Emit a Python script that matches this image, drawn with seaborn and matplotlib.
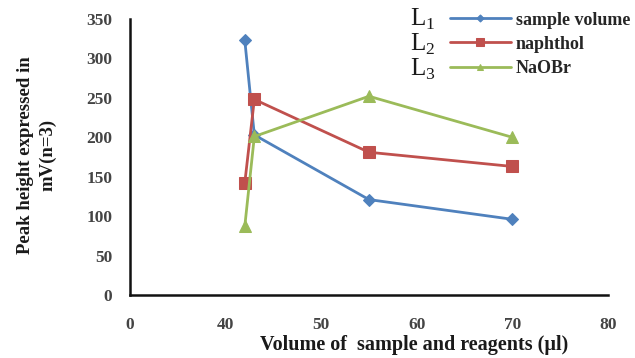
import numpy as np
import pandas as pd
import matplotlib
matplotlib.use("Agg")
import matplotlib.pyplot as plt
import seaborn as sns

# Optimisation data: peak height (mV, n=3) against volume (µl)
sample_volume_x = [42, 43, 55, 70]
sample_volume_y = [323, 203, 121, 96]
naphthol_x = [42, 43, 55, 70]
naphthol_y = [142, 248, 181, 163]
naobr_x = [42, 43, 55, 70]
naobr_y = [87, 201, 252, 200]

series_names = ["sample volume", "naphthol", "NaOBr"]
series_tags = ["L$_1$", "L$_2$", "L$_3$"]
x_ticks = [0, 40, 50, 60, 70, 80]
y_ticks = [0, 50, 100, 150, 200, 250, 300, 350]

sns.set_style("white")
plt.rcParams["font.family"] = ["Liberation Serif", "DejaVu Serif"]
plt.rcParams["mathtext.fontset"] = "custom"
plt.rcParams["mathtext.rm"] = "Liberation Serif"

fig = plt.figure(figsize=(6.35, 3.58), dpi=100)
ax = fig.add_axes([0.205, 0.176, 0.752, 0.771])

# Broken x axis: 0-40 squeezed into one tick interval, then linear
def fwd(x):
    x = np.asarray(x, dtype=float)
    return np.where(x < 40, x / 4.0, x - 30.0)

def inv(p):
    p = np.asarray(p, dtype=float)
    return np.where(p < 10, p * 4.0, p + 30.0)

ax.set_xscale("function", functions=(fwd, inv))

colors = ["#4F81BD", "#C0504D", "#9BBB59"]
markers = ["D", "s", "^"]
msizes = [6, 9, 8]
xs = [sample_volume_x, naphthol_x, naobr_x]
ys = [sample_volume_y, naphthol_y, naobr_y]

handles = []
for x, y, name, c, m, ms in zip(xs, ys, series_names, colors, markers, msizes):
    df = pd.DataFrame({"x": x, "y": y})
    sns.lineplot(data=df, x="x", y="y", ax=ax, color=c, marker=m,
                 markersize=ms, markeredgecolor=c, linewidth=2.0,
                 sort=False, label=name, legend=False)
    handles.append(ax.lines[-1])

ax.set_xlim(0, 80)
ax.set_ylim(0, 350)
ax.set_xticks(x_ticks)
ax.set_xticklabels([str(t) for t in x_ticks])
ax.set_yticks(y_ticks)
ax.set_yticklabels([str(t) for t in y_ticks])
ax.set_xlabel("")
ax.set_ylabel("")

for side in ["top", "right"]:
    ax.spines[side].set_visible(False)
for side in ["left", "bottom"]:
    ax.spines[side].set_color("#111111")
    ax.spines[side].set_linewidth(1.8)

ax.tick_params(axis="both", direction="out", length=4, width=1.5,
               color="#111111", labelsize=12.5, labelcolor="#444444")
ax.tick_params(axis="y", pad=9)
ax.tick_params(axis="x", pad=12)
for lbl in ax.get_xticklabels() + ax.get_yticklabels():
    lbl.set_fontweight("bold")

# Axis titles
fig.text(0.652, 0.036, "Volume of  sample and reagents (\u00b5l)",
         fontsize=14.5, fontweight="bold", color="#1a1a1a",
         ha="center", va="center")
fig.text(0.058, 0.567, "Peak height expressed in\nmV(n=3)", rotation=90,
         fontsize=13.5, fontweight="bold", color="#1a1a1a",
         ha="center", va="center", multialignment="center",
         linespacing=1.4)

leg = ax.legend(handles=handles, labels=series_names, loc="upper left",
                bbox_to_anchor=(0.635, 1.085), frameon=False,
                handlelength=3.4, handletextpad=0.25, labelspacing=0.39,
                markerscale=0.6,
                prop={"family": "Liberation Serif", "weight": "bold",
                      "size": 13})

# Series tags to the left of each legend row
for i, tag in enumerate(series_tags):
    ax.text(0.585, 1.0 - i * 0.091, tag, transform=ax.transAxes,
            fontsize=18, color="#1a1a1a", ha="left", va="center")

fig.savefig("out.png", dpi=100)
